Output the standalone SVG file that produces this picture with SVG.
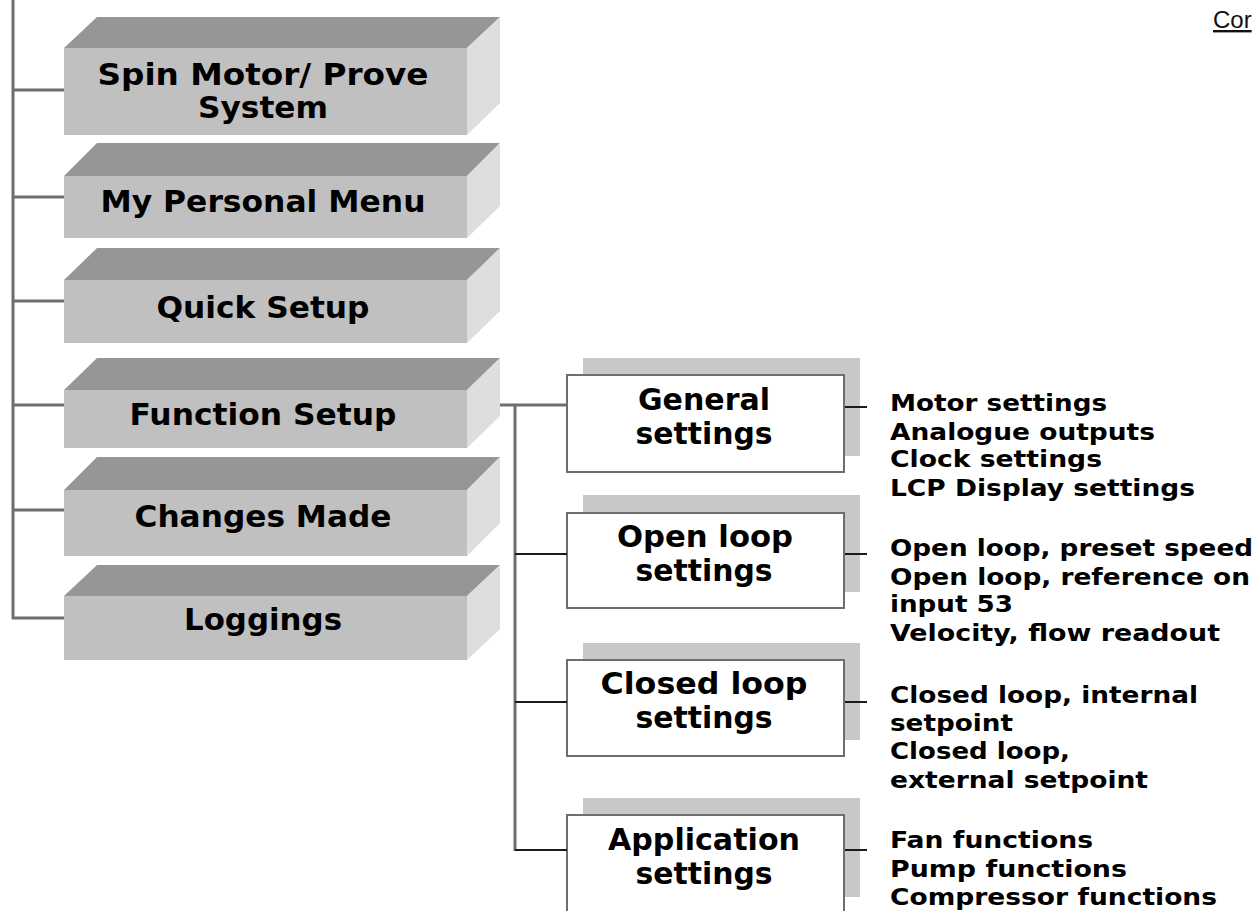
<svg xmlns="http://www.w3.org/2000/svg" width="1260" height="911" viewBox="0 0 1260 911">
<style>
.front{fill:#c0c0c0}
.top{fill:#969696}
.side{fill:#dedede}
.lbl{font-family:"DejaVu Sans","Verdana",sans-serif;font-weight:bold;font-size:30px;fill:#000;text-anchor:middle}
.sub{fill:#fff;stroke:#6e6e6e;stroke-width:2}
.shadow{fill:#c8c8c8}
.sublbl{font-family:"DejaVu Sans","Verdana",sans-serif;font-weight:bold;font-size:30px;fill:#000;text-anchor:middle}
.item{font-family:"DejaVu Sans","Verdana",sans-serif;font-weight:bold;font-size:23px;fill:#000}
.gline{stroke:#6e6e6e;stroke-width:3;fill:none}
.bline{stroke:#1a1a1a;stroke-width:2;fill:none}
</style>
<rect width="1260" height="911" fill="#fff"/>
<g id="spin-motor">
<polygon class="top" points="64,48 97,17 500,17 467,48"/>
<polygon class="side" points="467,48 500,17 500,103 467,135"/>
<rect class="front" x="64" y="48" width="403" height="87"/>
<text class="lbl" x="263" y="85" textLength="331" lengthAdjust="spacingAndGlyphs">Spin Motor/ Prove</text>
<text class="lbl" x="263" y="118" textLength="130" lengthAdjust="spacingAndGlyphs">System</text>
</g>
<g id="personal-menu">
<polygon class="top" points="64,176 97,143 500,143 467,176"/>
<polygon class="side" points="467,176 500,143 500,206 467,238"/>
<rect class="front" x="64" y="176" width="403" height="62"/>
<text class="lbl" x="263" y="212" textLength="325" lengthAdjust="spacingAndGlyphs">My Personal Menu</text>
</g>
<g id="quick-setup">
<polygon class="top" points="64,280 97,248 500,248 467,280"/>
<polygon class="side" points="467,280 500,248 500,311 467,343"/>
<rect class="front" x="64" y="280" width="403" height="63"/>
<text class="lbl" x="263" y="318" textLength="213" lengthAdjust="spacingAndGlyphs">Quick Setup</text>
</g>
<g id="function-setup">
<polygon class="top" points="64,390 97,358 500,358 467,390"/>
<polygon class="side" points="467,390 500,358 500,416 467,448"/>
<rect class="front" x="64" y="390" width="403" height="58"/>
<text class="lbl" x="263" y="425" textLength="267" lengthAdjust="spacingAndGlyphs">Function Setup</text>
</g>
<g id="changes-made">
<polygon class="top" points="64,490 97,457 500,457 467,490"/>
<polygon class="side" points="467,490 500,457 500,523 467,556"/>
<rect class="front" x="64" y="490" width="403" height="66"/>
<text class="lbl" x="263" y="527" textLength="257" lengthAdjust="spacingAndGlyphs">Changes Made</text>
</g>
<g id="loggings">
<polygon class="top" points="64,596 97,565 500,565 467,596"/>
<polygon class="side" points="467,596 500,565 500,629 467,660"/>
<rect class="front" x="64" y="596" width="403" height="64"/>
<text class="lbl" x="263" y="630" textLength="158" lengthAdjust="spacingAndGlyphs">Loggings</text>
</g>
<g id="general-settings">
<rect class="shadow" x="583" y="358" width="277" height="98"/>
<rect class="sub" x="567" y="375" width="277" height="97"/>
<text class="sublbl" x="704" y="410" textLength="132" lengthAdjust="spacingAndGlyphs">General</text>
<text class="sublbl" x="704" y="444" textLength="137" lengthAdjust="spacingAndGlyphs">settings</text>
</g>
<g id="open-loop-settings">
<rect class="shadow" x="583" y="495" width="277" height="97"/>
<rect class="sub" x="567" y="513" width="277" height="95"/>
<text class="sublbl" x="705" y="547" textLength="176" lengthAdjust="spacingAndGlyphs">Open loop</text>
<text class="sublbl" x="704" y="581" textLength="137" lengthAdjust="spacingAndGlyphs">settings</text>
</g>
<g id="closed-loop-settings">
<rect class="shadow" x="583" y="643" width="277" height="97"/>
<rect class="sub" x="567" y="660" width="277" height="96"/>
<text class="sublbl" x="704" y="694" textLength="207" lengthAdjust="spacingAndGlyphs">Closed loop</text>
<text class="sublbl" x="704" y="728" textLength="137" lengthAdjust="spacingAndGlyphs">settings</text>
</g>
<g id="application-settings">
<rect class="shadow" x="583" y="798" width="277" height="99"/>
<rect class="sub" x="567" y="815" width="277" height="100"/>
<text class="sublbl" x="704" y="850" textLength="192" lengthAdjust="spacingAndGlyphs">Application</text>
<text class="sublbl" x="704" y="884" textLength="137" lengthAdjust="spacingAndGlyphs">settings</text>
</g>
<g id="general-items">
<text class="item" x="890" y="411" textLength="217" lengthAdjust="spacingAndGlyphs">Motor settings</text>
<text class="item" x="890" y="440" textLength="265" lengthAdjust="spacingAndGlyphs">Analogue outputs</text>
<text class="item" x="890" y="467" textLength="212" lengthAdjust="spacingAndGlyphs">Clock settings</text>
<text class="item" x="890" y="496" textLength="305" lengthAdjust="spacingAndGlyphs">LCP Display settings</text>
</g>
<g id="open-loop-items">
<text class="item" x="890" y="556" textLength="363" lengthAdjust="spacingAndGlyphs">Open loop, preset speed</text>
<text class="item" x="890" y="585" textLength="360" lengthAdjust="spacingAndGlyphs">Open loop, reference on</text>
<text class="item" x="890" y="612" textLength="123" lengthAdjust="spacingAndGlyphs">input 53</text>
<text class="item" x="890" y="641" textLength="330" lengthAdjust="spacingAndGlyphs">Velocity, flow readout</text>
</g>
<g id="closed-loop-items">
<text class="item" x="890" y="703" textLength="308" lengthAdjust="spacingAndGlyphs">Closed loop, internal</text>
<text class="item" x="890" y="731" textLength="123" lengthAdjust="spacingAndGlyphs">setpoint</text>
<text class="item" x="890" y="759" textLength="180" lengthAdjust="spacingAndGlyphs">Closed loop,</text>
<text class="item" x="890" y="788" textLength="258" lengthAdjust="spacingAndGlyphs">external setpoint</text>
</g>
<g id="application-items">
<text class="item" x="890" y="848" textLength="203" lengthAdjust="spacingAndGlyphs">Fan functions</text>
<text class="item" x="890" y="877" textLength="237" lengthAdjust="spacingAndGlyphs">Pump functions</text>
<text class="item" x="890" y="905" textLength="327" lengthAdjust="spacingAndGlyphs">Compressor functions</text>
</g>
<g id="connectors">
<path class="gline" d="M13,0 V619 M13,90 H64 M13,197 H64 M13,301 H64 M13,405 H64 M13,510 H64 M12,618 H64"/>
<path class="gline" d="M500,405 H567 M515,405 V851"/>
<path class="bline" d="M515,554 H567 M515,702 H567 M515,850 H567"/>
<path class="bline" d="M845,407 H867 M845,554 H867 M845,702 H867 M845,850 H867"/>
</g>
<text x="1213" y="28" font-family="Liberation Sans, Arial, sans-serif" font-size="24" fill="#111" text-decoration="underline">Cor</text>
</svg>
